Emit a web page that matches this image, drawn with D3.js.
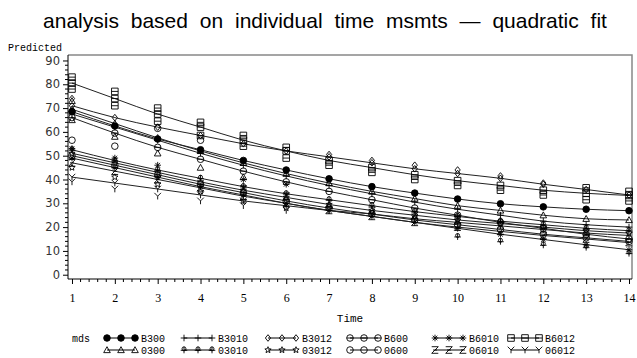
<!DOCTYPE html>
<html>
<head>
<meta charset="utf-8">
<script src="https://cdn.jsdelivr.net/npm/d3@7"></script>
<style>
  body { margin: 0; background: #fff; }
  svg { display: block; }
</style>
</head>
<body>
<div id="chart"></div>
<script>
// groups (mds) and their marker type
const groups = ["B300", "0300", "B3010", "03010", "B3012", "03012", "B600", "0600", "B6010", "06010", "B6012", "06012"];
const symbols = ["dot", "triangle", "plus", "club", "diamond", "star", "thetaCircle", "circle", "asterisk", "zed", "lineSquare", "wye"];
const times = [1, 2, 3, 4, 5, 6, 7, 8, 9, 10, 11, 12, 13, 14];

// quadratic fit per group, one value per time
const fitB300  = [68.5, 62.5, 57, 52.5, 48, 44, 40.3, 37, 34.3, 31.8, 29.8, 28.5, 27.5, 26.9];
const fit0300  = [69.5, 63.5, 57.5, 52, 47, 42.5, 38.5, 35, 32, 29, 27, 25, 23.5, 23];
const fitB3010 = [67.5, 62, 56.5, 51, 46, 41.5, 37.5, 34, 30.5, 27.5, 25, 22.5, 21, 20];
const fit03010 = [52.5, 48, 44, 40.5, 37, 34, 31.5, 29, 26.5, 24.5, 22.5, 21, 19.5, 18.5];
const fitB3012 = [71, 66, 62, 58.5, 55, 52, 49.5, 47, 44.5, 42.5, 40.5, 38, 35.8, 33.5];
const fit03012 = [51, 47, 43, 39, 35.5, 32.5, 29.5, 27, 25, 23, 21.5, 20, 18.5, 17.5];
const fitB600  = [66, 59.5, 53.5, 48.5, 43.5, 39, 35, 31.5, 28, 25, 22, 19.5, 17, 15];
const fit0600  = [50, 46, 42, 38, 34.5, 31, 28, 25.5, 23, 21, 19, 17, 15.5, 14];
const fitB6010 = [49, 45, 41, 37, 33.5, 30, 27, 24.5, 22, 19.5, 17, 14.8, 12.6, 10.5];
const fit06010 = [47, 43.5, 40, 36.5, 33, 30, 27, 24.5, 22, 20, 18.2, 16.5, 15, 13.5];
const fitB6012 = [80.5, 74, 67.5, 62, 56.5, 52, 48, 45, 42, 39.5, 37.5, 35.5, 34.2, 33.3];
const fit06012 = [41, 38.5, 36, 33.5, 31, 29, 27, 25.5, 23.5, 22, 20.5, 19, 17.5, 16.5];
const fits = [fitB300, fit0300, fitB3010, fit03010, fitB3012, fit03012, fitB600, fit0600, fitB6010, fit06010, fitB6012, fit06012];

// individual predicted points off the fitted lines: [group, time, value]
const msmts = [
  ["B6012", 1, 83], ["B6012", 1, 78], ["B6012", 2, 77], ["B6012", 2, 71], ["B6012", 3, 70], ["B6012", 3, 64.5],
  ["B6012", 4, 64], ["B6012", 4, 58.5], ["B6012", 5, 58.5], ["B6012", 5, 54], ["B6012", 6, 53.5], ["B6012", 6, 49],
  ["B6012", 7, 46], ["B6012", 8, 43], ["B6012", 9, 40], ["B6012", 10, 37.5], ["B6012", 11, 35.5], ["B6012", 12, 33.5],
  ["B6012", 13, 36.5], ["B6012", 13, 31.5], ["B6012", 14, 35], ["B6012", 14, 31],
  ["B3012", 1, 74], ["B3012", 7, 50.5], ["B3012", 8, 48], ["B3012", 9, 46], ["B3012", 10, 44], ["B3012", 11, 41.5], ["B3012", 12, 38.5],
  ["0300", 1, 73], ["0300", 1, 65], ["0300", 2, 58], ["0300", 3, 51], ["0300", 4, 45], ["0300", 5, 41],
  ["0600", 1, 56.5], ["0600", 2, 54], ["0600", 3, 61.5], ["0600", 4, 56.5],
  ["03010", 10, 16], ["03010", 11, 14], ["03010", 12, 12.5], ["03010", 13, 11.5], ["03010", 14, 9],
  ["06012", 1, 39], ["06012", 2, 36], ["06012", 3, 33], ["06012", 4, 31], ["06012", 5, 29], ["06012", 6, 27],
  ["03012", 1, 45], ["03012", 2, 41], ["03012", 3, 38], ["03012", 4, 35], ["03012", 5, 31], ["03012", 6, 28],
  ["B6010", 1, 53], ["B6010", 2, 49], ["B6010", 3, 46], ["B6010", 5, 40], ["B6010", 6, 38],
  ["06010", 5, 36], ["06010", 6, 33], ["06010", 7, 30], ["06010", 8, 27], ["06010", 9, 25], ["06010", 10, 23]
];

const width = 637, height = 358;
const margin = { top: 55, right: 5, bottom: 79, left: 68 };

const svg = d3.select("#chart")
  .append("svg")
  .attr("width", width)
  .attr("height", height);

const x = d3.scaleLinear().domain([0.907, 14.07]).range([margin.left, width - margin.right]);
const y = d3.scaleLinear().domain([-1.8, 92.3]).range([height - margin.bottom, margin.top]);

// marker shapes, s = half size
function markerPath(type, s) {
  const p = d3.path();
  if (type === "dot" || type === "circle") {
    p.moveTo(s, 0); p.arc(0, 0, s, 0, 2 * Math.PI);
  } else if (type === "thetaCircle") {
    p.moveTo(s, 0); p.arc(0, 0, s, 0, 2 * Math.PI);
    p.moveTo(-s, 0); p.lineTo(s, 0);
  } else if (type === "triangle") {
    p.moveTo(0, -s); p.lineTo(s, s * 0.8); p.lineTo(-s, s * 0.8); p.closePath();
  } else if (type === "plus") {
    p.moveTo(-s, 0); p.lineTo(s, 0); p.moveTo(0, -s); p.lineTo(0, s);
  } else if (type === "club") {
    const r = s * 0.6;
    p.moveTo(r, -s * 0.35); p.arc(0, -s * 0.35, r, 0, 2 * Math.PI);
    p.moveTo(-s, 0.1 * s); p.lineTo(s, 0.1 * s);
    p.moveTo(0, -s); p.lineTo(0, s);
  } else if (type === "diamond") {
    p.moveTo(0, -s); p.lineTo(s * 0.8, 0); p.lineTo(0, s); p.lineTo(-s * 0.8, 0); p.closePath();
  } else if (type === "star") {
    for (let i = 0; i < 10; i++) {
      const r = i % 2 ? s * 0.45 : s;
      const a = -Math.PI / 2 + i * Math.PI / 5;
      if (i === 0) p.moveTo(r * Math.cos(a), r * Math.sin(a));
      else p.lineTo(r * Math.cos(a), r * Math.sin(a));
    }
    p.closePath();
  } else if (type === "asterisk") {
    p.moveTo(-s, 0); p.lineTo(s, 0);
    p.moveTo(-s * 0.7, -s * 0.7); p.lineTo(s * 0.7, s * 0.7);
    p.moveTo(-s * 0.7, s * 0.7); p.lineTo(s * 0.7, -s * 0.7);
    p.moveTo(0, -s); p.lineTo(0, s);
  } else if (type === "zed") {
    p.moveTo(-s, -s); p.lineTo(s, -s); p.lineTo(-s, s); p.lineTo(s, s);
    p.moveTo(-s * 0.6, 0); p.lineTo(s * 0.6, 0);
  } else if (type === "lineSquare") {
    p.rect(-s, -s, 2 * s, 2 * s);
    p.moveTo(-s, 0); p.lineTo(s, 0);
  } else if (type === "wye") {
    p.moveTo(-s, -s); p.lineTo(0, 0); p.lineTo(s, -s);
    p.moveTo(0, 0); p.lineTo(0, s);
  }
  return p.toString();
}

function drawMarker(g, type, cx, cy, s) {
  g.append("path")
    .attr("transform", `translate(${cx},${cy})`)
    .attr("d", markerPath(type, s))
    .attr("fill", type === "dot" ? "#000" : "none")
    .attr("stroke", "#000")
    .attr("stroke-width", 0.9);
}

// title
svg.append("text")
  .attr("x", 325).attr("y", 28)
  .attr("text-anchor", "middle")
  .style("font-family", "'Liberation Sans', Arial, sans-serif")
  .style("font-size", "21px")
  .style("word-spacing", "6px")
  .text("analysis based on individual time msmts \u2014 quadratic fit");

// frame
const x0 = margin.left, x1 = width - margin.right, y0 = margin.top, y1 = height - margin.bottom;
svg.append("path")
  .attr("d", `M${x0},${y0}H${x1}V${y1}`)
  .attr("fill", "none").attr("stroke", "#888").attr("stroke-width", 1.5);

// y axis
const yAxis = svg.append("g").attr("transform", `translate(${x0},0)`)
  .call(d3.axisLeft(y).tickValues(d3.range(0, 91, 10)).tickSize(5).tickPadding(3));
yAxis.append("g").selectAll("line")
  .data(d3.range(0, 91, 2).filter(d => d % 10 !== 0))
  .join("line")
  .attr("x1", 0).attr("x2", -3)
  .attr("y1", d => y(d)).attr("y2", d => y(d))
  .attr("stroke", "#000");
yAxis.select(".domain").attr("d", `M0,${y0}V${y1}`);
yAxis.selectAll("text")
  .style("font-family", "'DejaVu Sans', sans-serif")
  .style("font-size", "11.5px")
  .attr("fill", "#333");

svg.append("text")
  .attr("x", 8).attr("y", 51)
  .style("font-family", "'Liberation Mono', monospace")
  .style("font-size", "10px")
  .text("Predicted");

// x axis
const xAxis = svg.append("g").attr("transform", `translate(0,${y1})`)
  .call(d3.axisBottom(x).tickValues(times).tickSize(5).tickPadding(9).tickFormat(d3.format("d")));
xAxis.append("g").selectAll("line")
  .data(d3.range(1, 14.01, 0.2).filter(d => Math.abs(d - Math.round(d)) > 0.01))
  .join("line")
  .attr("x1", d => x(d)).attr("x2", d => x(d))
  .attr("y1", 0).attr("y2", 3)
  .attr("stroke", "#000");
xAxis.select(".domain").attr("d", `M${x0},0H${x1}`);
xAxis.selectAll("text")
  .style("font-family", "'Liberation Serif', serif")
  .style("font-size", "12px");

svg.append("text")
  .attr("x", 350).attr("y", 322)
  .attr("text-anchor", "middle")
  .style("font-family", "'Liberation Mono', monospace")
  .style("font-size", "11px")
  .text("Time");

// fitted lines
const line = d3.line().x((d, i) => x(times[i])).y(d => y(d)).curve(d3.curveMonotoneX);
const plot = svg.append("g");
plot.selectAll("path.fit")
  .data(fits)
  .join("path")
  .attr("class", "fit")
  .attr("d", line)
  .attr("fill", "none")
  .attr("stroke", "#222")
  .attr("stroke-width", 1);

// markers
const marks = svg.append("g");
fits.forEach((vals, gi) => {
  vals.forEach((v, i) => drawMarker(marks, symbols[gi], x(times[i]), y(v), 3.3));
});
msmts.forEach(([g, t, v]) => {
  drawMarker(marks, symbols[groups.indexOf(g)], x(t), y(v), 3.3);
});

// legend
const legendX = [107, 184, 268, 350, 435, 511];
const legendY = [338, 350];
const legend = svg.append("g")
  .style("font-family", "'Liberation Mono', monospace")
  .style("font-size", "10px");
legend.append("text").attr("x", 72).attr("y", legendY[0] + 3.5).text("mds");
groups.forEach((g, gi) => {
  const col = Math.floor(gi / 2), row = gi % 2;
  const lx = legendX[col], ly = legendY[row];
  legend.append("line")
    .attr("x1", lx).attr("x2", lx + 28)
    .attr("y1", ly).attr("y2", ly)
    .attr("stroke", "#000");
  [0, 14, 28].forEach(dx => drawMarker(legend, symbols[gi], lx + dx, ly, 3.3));
  legend.append("text").attr("x", lx + 34).attr("y", ly + 3.5).text(g);
});
</script>
</body>
</html>
